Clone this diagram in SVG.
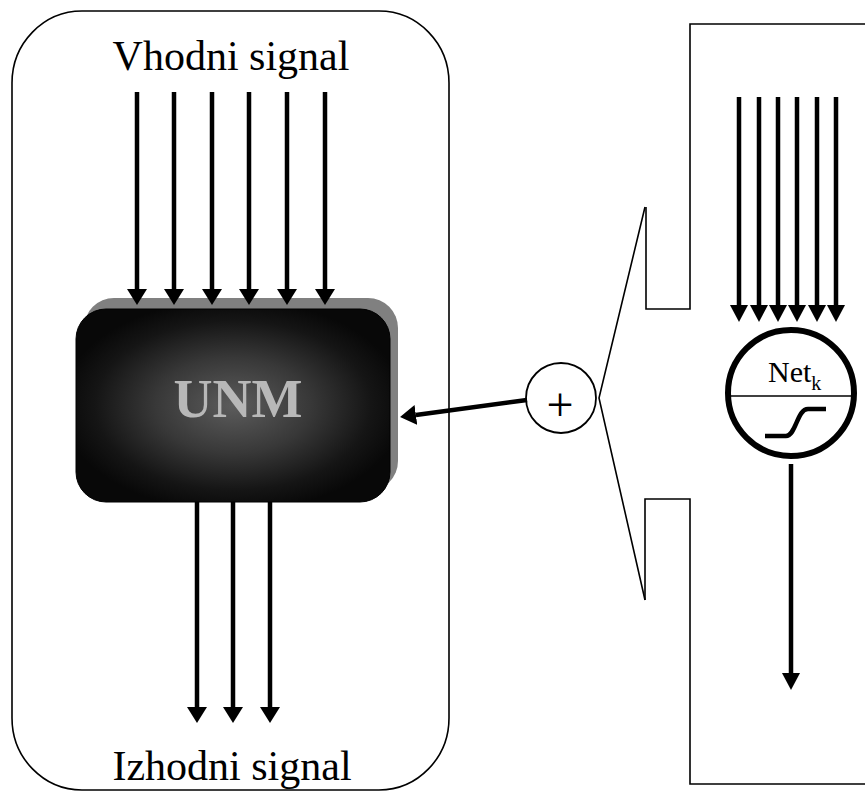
<svg xmlns="http://www.w3.org/2000/svg" width="865" height="792" viewBox="0 0 865 792">
<style>
.frame{fill:none;stroke:#000;stroke-width:1.6}
.thick{stroke:#000;stroke-width:4.5;fill:none}
.lbl{font-family:"Liberation Serif","Times New Roman",serif;fill:#000}
</style>
<defs>
<marker id="ah" viewBox="0 -10 16 20" refX="0" refY="0" markerWidth="16" markerHeight="20" markerUnits="userSpaceOnUse" orient="auto">
<path d="M0,-10 L16,0 L0,10 Z" fill="#000"/>
</marker>
<marker id="ahs" viewBox="0 -9 17 18" refX="0" refY="0" markerWidth="17" markerHeight="18" markerUnits="userSpaceOnUse" orient="auto">
<path d="M0,-9 L17,0 L0,9 Z" fill="#000"/>
</marker>
<radialGradient id="boxg" cx="50%" cy="50%" r="55%">
<stop offset="0" stop-color="#5c5c5c"/>
<stop offset="0.45" stop-color="#383838"/>
<stop offset="0.8" stop-color="#151515"/>
<stop offset="1" stop-color="#080808"/>
</radialGradient>
</defs>

<g id="outer">
<rect x="12" y="11" width="437" height="779" rx="70" ry="72" class="frame"/>
</g>

<g id="labels">
<text class="lbl" x="231" y="70" font-size="42" text-anchor="middle">Vhodni signal</text>
<text class="lbl" x="232" y="780" font-size="42" text-anchor="middle">Izhodni signal</text>
</g>

<g id="unm">
<rect x="84" y="298" width="314" height="193" rx="30" fill="#808080"/>
<rect x="76" y="309" width="314" height="193" rx="30" fill="url(#boxg)" stroke="#000" stroke-width="1"/>
<text x="238" y="417" font-family="Liberation Serif,'Times New Roman',serif" font-weight="bold" font-size="54" fill="#b8b8b8" text-anchor="middle">UNM</text>
</g>

<g id="sum">
<circle cx="561" cy="398" r="35" fill="#fff" stroke="#000" stroke-width="1.8"/>
<text class="lbl" x="560" y="421" font-size="48" text-anchor="middle">+</text>
</g>

<g id="neuron">
<circle cx="791" cy="393" r="63" fill="#fff" stroke="#000" stroke-width="6"/>
<line x1="728" y1="396" x2="854" y2="396" stroke="#000" stroke-width="1.6"/>
<text class="lbl" x="768" y="382" font-size="30">Net<tspan font-size="20" dy="8">k</tspan></text>
<path d="M765,436 L786,436 C796,436 797,409 808,409 L826,409" class="thick" stroke-width="4"/>
</g>

<g id="callout">
<polyline points="645,207 599,398 645,600" class="frame"/>
<polyline points="646,207 646,309 690,309 690,24 865,24" class="frame"/>
<polyline points="645,600 645,499 690,499 690,784 865,784" class="frame"/>
</g>

<g id="connectors">
<line x1="137" y1="92" x2="137" y2="289" class="thick" marker-end="url(#ah)"/>
<line x1="174" y1="92" x2="174" y2="289" class="thick" marker-end="url(#ah)"/>
<line x1="212" y1="92" x2="212" y2="289" class="thick" marker-end="url(#ah)"/>
<line x1="249" y1="92" x2="249" y2="289" class="thick" marker-end="url(#ah)"/>
<line x1="287" y1="92" x2="287" y2="289" class="thick" marker-end="url(#ah)"/>
<line x1="325" y1="92" x2="325" y2="289" class="thick" marker-end="url(#ah)"/>

<line x1="197" y1="502" x2="197" y2="707" class="thick" marker-end="url(#ah)"/>
<line x1="233" y1="502" x2="233" y2="707" class="thick" marker-end="url(#ah)"/>
<line x1="270" y1="502" x2="270" y2="707" class="thick" marker-end="url(#ah)"/>

<line x1="527" y1="400" x2="415.9" y2="414.9" class="thick" marker-end="url(#ah)"/>

<line x1="739" y1="97" x2="739" y2="305" class="thick" marker-end="url(#ahs)"/>
<line x1="759" y1="97" x2="759" y2="305" class="thick" marker-end="url(#ahs)"/>
<line x1="778" y1="97" x2="778" y2="305" class="thick" marker-end="url(#ahs)"/>
<line x1="797" y1="97" x2="797" y2="305" class="thick" marker-end="url(#ahs)"/>
<line x1="817" y1="97" x2="817" y2="305" class="thick" marker-end="url(#ahs)"/>
<line x1="836" y1="97" x2="836" y2="305" class="thick" marker-end="url(#ahs)"/>

<line x1="791" y1="464" x2="791" y2="673" class="thick" marker-end="url(#ahs)"/>
</g>
</svg>
